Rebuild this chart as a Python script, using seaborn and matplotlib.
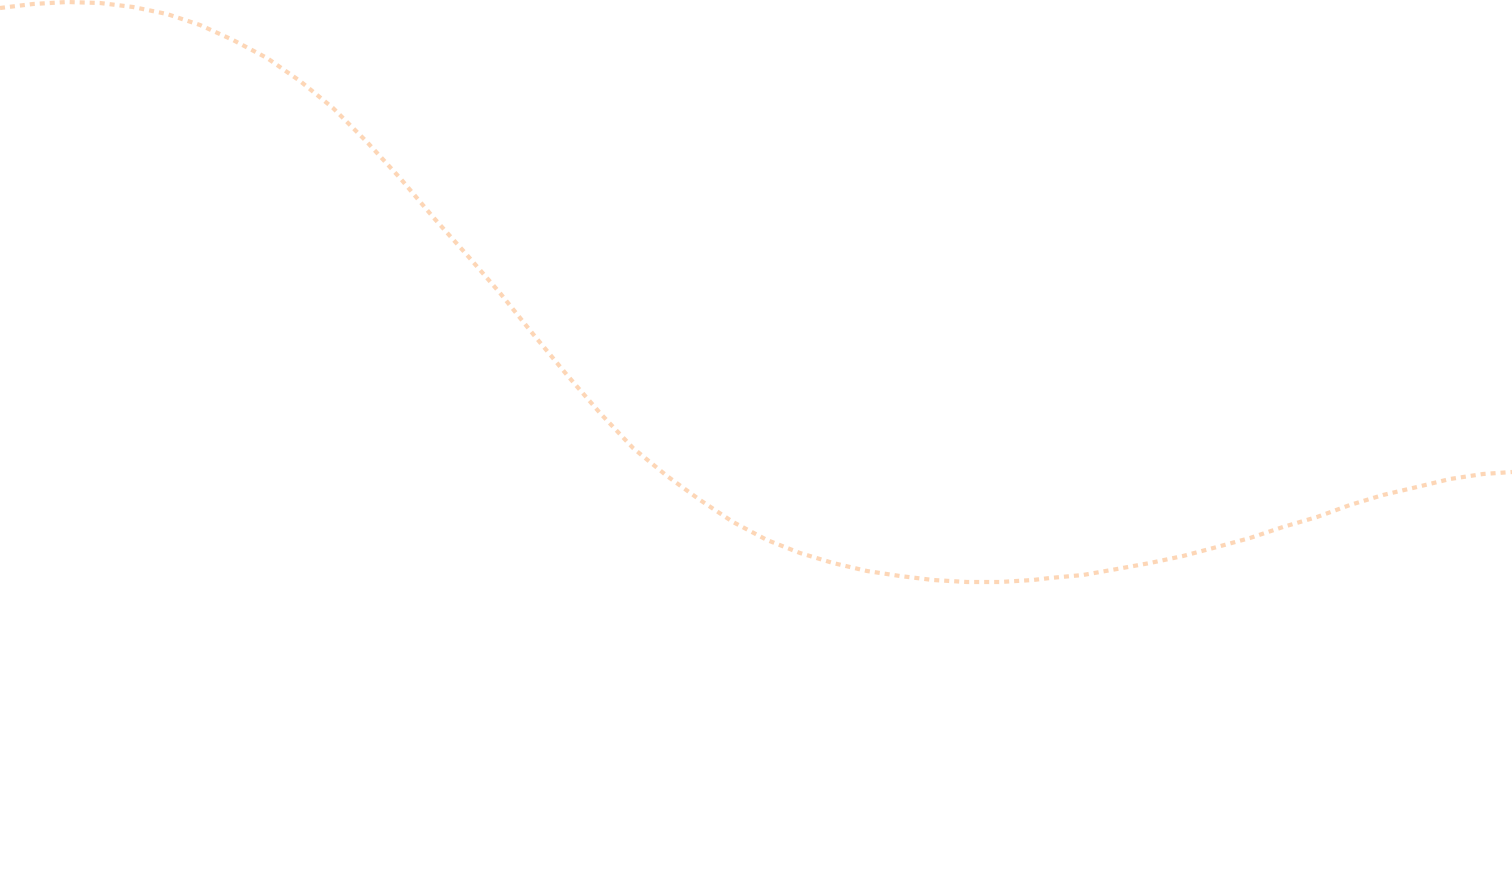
import pandas as pd
import seaborn as sns
import matplotlib.pyplot as plt

x_vals = [0, 33, 67, 100, 133, 167, 200, 233, 267, 300, 333, 367, 400, 433,
          467, 500, 533, 567, 600, 633, 667, 700, 733, 767, 800, 833, 867,
          900, 933, 967, 1000, 1033, 1050, 1083, 1117, 1150, 1183, 1217,
          1250, 1283, 1317, 1350, 1383, 1417, 1450, 1483, 1512]
y_vals = [8, 4, 2, 3, 7, 14, 25, 40, 58, 81, 108, 142, 178, 217,
          255, 293, 334, 375, 413, 448, 476, 500, 522, 540, 553, 563, 571,
          576, 580, 582, 582, 580, 578, 575, 569, 563, 556, 547,
          538, 527, 517, 505, 495, 487, 479, 474, 472]

df = pd.DataFrame({"x": x_vals, "y": y_vals})

sns.set_style("white")
fig = plt.figure(figsize=(15.12, 8.75), dpi=100)
ax = fig.add_axes([0, 0, 1, 1])

line = sns.lineplot(data=df, x="x", y="y", ax=ax, estimator=None,
                    color="#FDD6B6", linewidth=3.0)
line.lines[0].set_dashes((1.2, 1.2))
line.lines[0].set_dash_capstyle("butt")

ax.set_xlim(0, 1512)
ax.set_ylim(875, 0)
ax.axis("off")

fig.savefig("out.png", dpi=100, facecolor="white")
